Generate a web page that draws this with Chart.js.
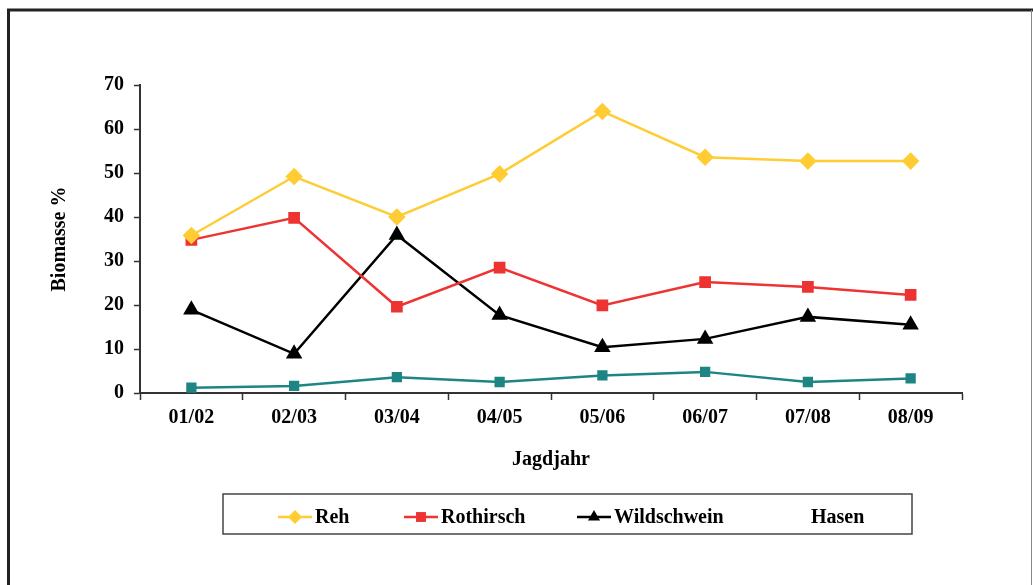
<!DOCTYPE html>
<html>
<head>
<meta charset="utf-8">
<script src="https://cdn.jsdelivr.net/npm/chart.js@4"></script>
<style>
  html, body { margin: 0; padding: 0; background: #fff; }
  #wrap { width: 1033px; height: 585px; }
</style>
</head>
<body>
<div id="wrap"><canvas id="myChart" width="1033" height="585"></canvas></div>
<script>
const jahre = ["01/02", "02/03", "03/04", "04/05", "05/06", "06/07", "07/08", "08/09"];
const reh = [35.8, 49.2, 40.0, 49.8, 64.0, 53.6, 52.7, 52.7];
const rothirsch = [34.8, 39.8, 19.6, 28.5, 19.9, 25.2, 24.1, 22.3];
const wildschwein = [18.9, 8.9, 35.9, 17.7, 10.4, 12.3, 17.3, 15.5];
const hasen = [1.2, 1.6, 3.6, 2.5, 4.0, 4.8, 2.5, 3.3];
const yTicks = [0, 10, 20, 30, 40, 50, 60, 70];

const serif = "'Liberation Serif', 'Times New Roman', serif";

// outer frame round the whole chart
const framePlugin = {
    id: "frame",
    beforeDraw(chart) {
        const c = chart.ctx;
        c.save();
        c.fillStyle = "#fff";
        c.fillRect(0, 0, chart.width, chart.height);
        c.strokeStyle = "#222";
        c.lineWidth = 3;
        c.beginPath();
        c.moveTo(8.5, 600);
        c.lineTo(8.5, 10);
        c.lineTo(1033, 10);
        c.stroke();
        c.strokeStyle = "#888";
        c.lineWidth = 1;
        c.beginPath();
        c.moveTo(1031.5, 10);
        c.lineTo(1031.5, 600);
        c.stroke();
        c.restore();
    },
};

// boxed legend below the plot, Hasen has no marker in the original
const boxLegend = {
    id: "boxLegend",
    afterDraw(chart) {
        const c = chart.ctx;
        const xs = [278, 404, 577, 774];
        const y = 517;
        c.save();
        c.strokeStyle = "#444";
        c.lineWidth = 1.5;
        c.strokeRect(223, 494, 689, 40);
        c.font = "bold 20px " + serif;
        c.textBaseline = "middle";
        chart.data.datasets.forEach((ds, i) => {
            const x = xs[i];
            if (ds.showInLegend !== false) {
                c.strokeStyle = ds.borderColor;
                c.lineWidth = 2.5;
                c.beginPath();
                c.moveTo(x, y);
                c.lineTo(x + 34, y);
                c.stroke();
                c.fillStyle = ds.pointBackgroundColor;
                c.strokeStyle = ds.pointBorderColor;
                Chart.helpers.drawPoint(c, {
                    pointStyle: ds.pointStyle,
                    radius: 7,
                    rotation: 0,
                    borderWidth: 0,
                }, x + 17, y);
            }
            c.fillStyle = "#000";
            c.fillText(ds.label, x + 37, y + 1);
        });
        c.restore();
    },
};

function serie(label, data, color, style, radius) {
    return {
        label,
        data,
        borderColor: color,
        backgroundColor: color,
        pointBackgroundColor: color,
        pointBorderColor: color,
        pointStyle: style,
        pointRadius: radius,
        pointHoverRadius: radius,
        borderWidth: 2.5,
        tension: 0,
        fill: false,
    };
}

const datasets = [
    serie("Reh", reh, "#FFCC33", "rectRot", 7),
    serie("Rothirsch", rothirsch, "#EE3333", "rect", 6.5),
    serie("Wildschwein", wildschwein, "#000000", "triangle", 7),
    serie("Hasen", hasen, "#1E8585", "rect", 5.5),
];
datasets[3].showInLegend = false;

new Chart(document.getElementById("myChart"), {
    type: "line",
    data: { labels: jahre, datasets },
    options: {
        responsive: false,
        animation: false,
        layout: { padding: { left: 48, top: 85, right: 71, bottom: 113 } },
        plugins: {
            legend: { display: false },
            title: { display: false },
            tooltip: { enabled: false },
        },
        scales: {
            x: {
                offset: true,
                grid: {
                    offset: true,
                    drawOnChartArea: false,
                    drawTicks: true,
                    tickLength: 7,
                    color: "#333",
                    tickWidth: 1.5,
                },
                border: { color: "#333", width: 2 },
                ticks: {
                    color: "#000",
                    padding: 6,
                    font: { family: serif, size: 20, weight: "bold" },
                },
                title: {
                    display: true,
                    text: "Jagdjahr",
                    color: "#000",
                    padding: 0,
                    font: { family: serif, size: 20, weight: "bold" },
                },
                afterFit(scale) { scale.height = 79; },
            },
            y: {
                min: 0,
                max: 70,
                afterBuildTicks(scale) { scale.ticks = yTicks.map(v => ({ value: v })); },
                grid: {
                    drawOnChartArea: false,
                    drawTicks: true,
                    tickLength: 6,
                    color: "#333",
                    tickWidth: 1.5,
                },
                border: { color: "#333", width: 2 },
                ticks: {
                    color: "#000",
                    padding: 10,
                    font: { family: serif, size: 20, weight: "bold" },
                },
                title: {
                    display: true,
                    text: "Biomasse %",
                    color: "#000",
                    padding: 0,
                    font: { family: serif, size: 20, weight: "bold" },
                },
                afterFit(scale) { scale.width = 92; },
            },
        },
    },
    plugins: [framePlugin, boxLegend],
});
</script>
</body>
</html>
